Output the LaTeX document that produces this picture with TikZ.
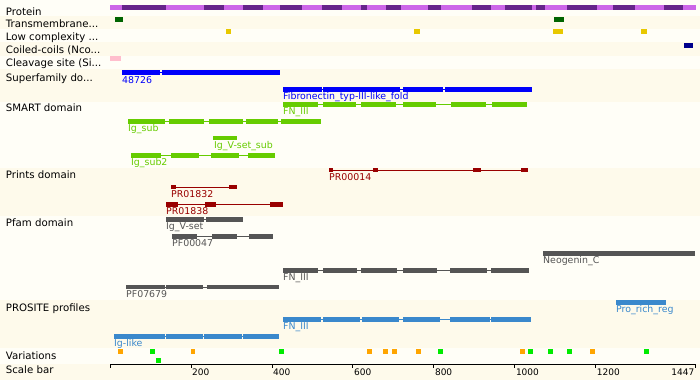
\documentclass[tikz,border=0pt]{standalone}
\usepackage{fontspec}
\setmainfont{DejaVu Sans}
\definecolor{bgA}{RGB}{255,254,247}
\definecolor{bgB}{RGB}{254,250,235}
\definecolor{protL}{RGB}{204,102,232}
\definecolor{protD}{RGB}{102,36,138}
\definecolor{tmgreen}{RGB}{0,100,0}
\definecolor{lowyel}{RGB}{232,200,0}
\definecolor{coilnavy}{RGB}{0,0,140}
\definecolor{cleavpink}{RGB}{255,190,205}
\definecolor{supblue}{RGB}{0,0,250}
\definecolor{smartgreen}{RGB}{102,204,0}
\definecolor{printsred}{RGB}{153,0,0}
\definecolor{pfamgray}{RGB}{85,85,85}
\definecolor{prosblue}{RGB}{58,136,204}
\definecolor{varorange}{RGB}{255,165,0}
\definecolor{vargreen}{RGB}{0,235,0}
\newcommand{\segbar}[6]{%
  \draw[#1,line width=0.8pt] (#4,{(#2+#3)/2}) -- (#5,{(#2+#3)/2});
  \foreach \a/\b in {#6} {\fill[#1] (\a,#2) rectangle (\b,#3);}%
}
\begin{document}
\begin{tikzpicture}[x=1pt,y=-1pt,
  rowlab/.style={anchor=base west,inner sep=0pt,font=\fontsize{10.2}{12}\selectfont},
  domlab/.style={anchor=base west,inner sep=0pt,font=\fontsize{9.4}{11}\selectfont},
  scalelab/.style={anchor=base west,inner sep=0pt,font=\fontsize{9}{11}\selectfont}]
\useasboundingbox (0,0) rectangle (700,380);
\fill[bgA] (0,0) rectangle (700,380);
% alternating bands
\fill[bgB] (0,16) rectangle (700,28.5);
\fill[bgB] (0,42) rectangle (700,55.5);
\fill[bgB] (0,69) rectangle (700,101.5);
\fill[bgB] (0,168) rectangle (700,216);
\fill[bgB] (0,299.5) rectangle (700,348);
\fill[bgB] (0,363.5) rectangle (700,380);
% row labels
\node[rowlab] (lprot) at (5.7,15) {Protein};
\node[rowlab] (ltm) at (5.7,27.5) {Transmembrane...};
\node[rowlab] (llow) at (5.7,40.5) {Low complexity ...};
\node[rowlab] (lcoil) at (5.7,53.5) {Coiled-coils (Nco...};
\node[rowlab] (lcleav) at (5.7,66.5) {Cleavage site (Si...};
\node[rowlab] (lsup) at (5.7,81.5) {Superfamily do...};
\node[rowlab] (lsmart) at (5.7,111.5) {SMART domain};
\node[rowlab] (lprints) at (5.7,178.5) {Prints domain};
\node[rowlab] (lpfam) at (5.7,226.5) {Pfam domain};
\node[rowlab] (lpros) at (5.7,311.5) {PROSITE profiles};
\node[rowlab] (lvar) at (5.7,359) {Variations};
\node[rowlab] (lscale) at (5.7,373.5) {Scale bar};
% protein bar
\fill[protL] (110,5) rectangle (696,9.5);
\foreach \a/\b in {122/165.5,204/224,243.3/263,280/301.5,322/342,361/367,386/401,428/441,472/491,505/532,535.7/545,567/597,613/635,664/683}
  {\fill[protD] (\a,5) rectangle (\b,9.5);}
% transmembrane
\fill[tmgreen] (115,17.3) rectangle (123,21.5);
\fill[tmgreen] (554,17.3) rectangle (564,21.5);
% low complexity
\foreach \a/\b in {226/231,414/419.7,553/562.7,641/646.7}
  {\fill[lowyel] (\a,29.3) rectangle (\b,33.7);}
% coiled coils
\fill[coilnavy] (684,42.7) rectangle (693,47.7);
% cleavage
\fill[cleavpink] (110,56) rectangle (121,61);
% superfamily
\segbar{supblue}{70}{74.7}{122}{280}{122/160,162.3/280}
\node[domlab,text=supblue] (t48726) at (122,83) {48726};
\segbar{supblue}{86.7}{91.7}{283}{532}{283/321.7,323.3/400,403/443,445/532}
\node[domlab,text=supblue] (tfib) at (283,99.7) {Fibronectin\_typ-III-like\_fold};
% SMART
\segbar{smartgreen}{102.3}{106.5}{283}{527}{283/318.3,322.7/356,361/396,403.3/436,451/486,492/527}
\node[domlab,text=smartgreen] (tsfn) at (283,114.5) {FN\_III};
\segbar{smartgreen}{119.3}{123.7}{128}{320.7}{128/165.3,168.7/204,209/242.7,246.3/278.3,281/320.7}
\node[domlab,text=smartgreen] (tigsub) at (128,131.5) {Ig\_sub};
\segbar{smartgreen}{136}{140.4}{213.3}{237}{213.3/237}
\node[domlab,text=smartgreen] (tigvss) at (214,148.5) {Ig\_V-set\_sub};
\segbar{smartgreen}{153.2}{157.5}{131}{275}{131/161,171/199,211/239,248/275}
\node[domlab,text=smartgreen] (tigsub2) at (131,165.5) {Ig\_sub2};
% Prints
\segbar{printsred}{168.3}{172.4}{329}{528}{329/333,373.3/378,473.3/481,521/528}
\node[domlab,text=printsred] (tpr14) at (329,180.5) {PR00014};
\segbar{printsred}{185.3}{189.4}{171}{237}{171/176,229/237}
\node[domlab,text=printsred] (tpr32) at (171,197.5) {PR01832};
\segbar{printsred}{202}{206.5}{166}{283}{166/178,205/216,270/283}
\node[domlab,text=printsred] (tpr38) at (166,214.5) {PR01838};
% Pfam
\segbar{pfamgray}{217}{221.5}{166}{243}{166/204,206/243}
\node[domlab,text=pfamgray] (tigv) at (166,229.8) {Ig\_V-set};
\segbar{pfamgray}{234}{238.5}{172}{273}{172/197,212/237,249/273}
\node[domlab,text=pfamgray] (tpf47) at (172,246.7) {PF00047};
\segbar{pfamgray}{251}{255.5}{543}{694.7}{543/694.7}
\node[domlab,text=pfamgray] (tneo) at (543,263.8) {Neogenin\_C};
\segbar{pfamgray}{268.3}{272.6}{283}{529}{283/318,323/357,361/397,403/437,450/487,491/529}
\node[domlab,text=pfamgray] (tpffn) at (283,280.8) {FN\_III};
\segbar{pfamgray}{285}{289.4}{126}{279}{126/165,166/203,207/279}
\node[domlab,text=pfamgray] (tpf79) at (126,297.6) {PF07679};
% PROSITE
\segbar{prosblue}{300}{304.5}{616}{666}{616/666}
\node[domlab,text=prosblue] (tpro) at (616,312.6) {Pro\_rich\_reg};
\segbar{prosblue}{317}{321.6}{283}{531}{283/321,323/360,362/399,403/440,450/490,491/531}
\node[domlab,text=prosblue] (tprfn) at (283,329.8) {FN\_III};
\segbar{prosblue}{334}{338.6}{114}{279}{114/165,166/203,204/242,243/279}
\node[domlab,text=prosblue] (tiglike) at (114,346.6) {Ig-like};
% variations
\foreach \c in {120.5,193,369.7,385.5,394.5,418.3,522.5,592.3}
  {\fill[varorange] (\c-2.3,349) rectangle (\c+2.3,353.6);}
\foreach \c in {152.5,281.7,440.5,530.5,550.5,569.5,646.3}
  {\fill[vargreen] (\c-2.3,349) rectangle (\c+2.3,353.6);}
\fill[vargreen] (156,358) rectangle (160.6,362.6);
% scale bar
\coordinate (s0) at (110,364.3);
\coordinate (s1) at (695.7,364.3);
\draw[black,line width=0.9pt] (s0) -- (s1);
\foreach \r in {0,200,400,600,800,1000,1200,1447}
  {\draw[black,line width=0.8pt] ({110+0.4048*\r},364.3) -- ({110+0.4048*\r},367.5);}
\foreach \r in {200,400,600,800,1000,1200}
  {\node[scalelab] (sc\r) at ({111+0.4048*\r},375) {\r};}
\node[scalelab,anchor=base east] (sc1447) at (694.5,375) {1447};
\end{tikzpicture}
\end{document}
